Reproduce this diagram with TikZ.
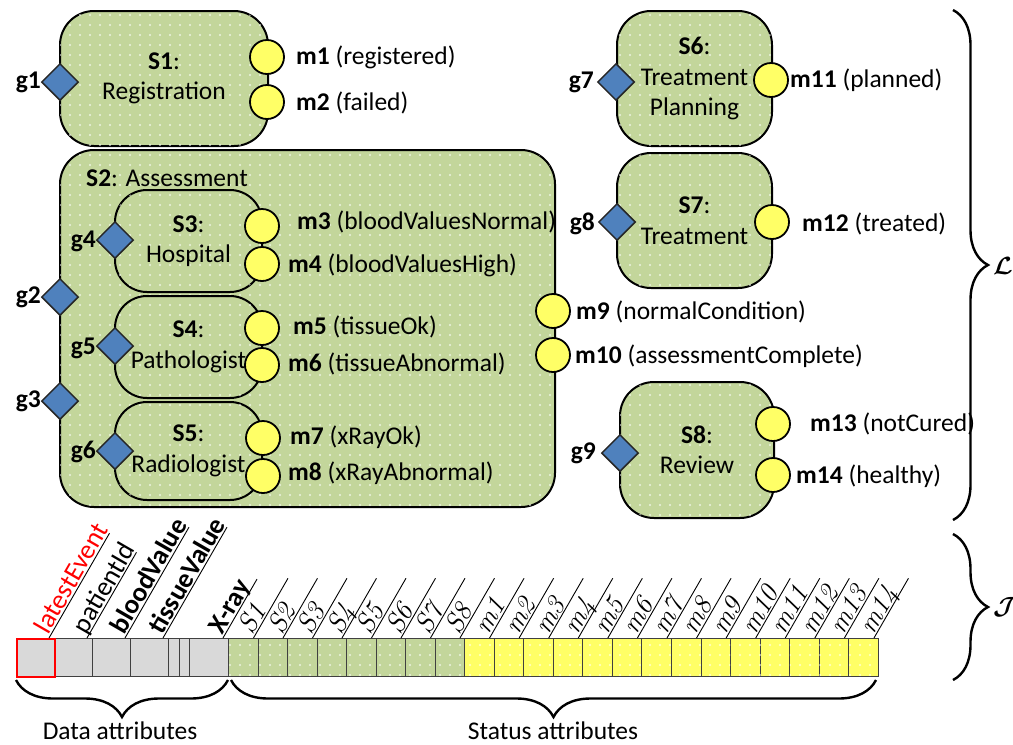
\documentclass[tikz,border=0pt]{standalone}
\usepackage[no-math]{fontspec}
\setmainfont{Carlito}
\usepackage{bm}
\usetikzlibrary{shapes.geometric,patterns.meta,decorations.pathreplacing,calc}

\definecolor{stategreen}{HTML}{C3D69B}
\definecolor{msyellow}{HTML}{FFFF66}
\definecolor{guardblue}{HTML}{4F81BD}
\definecolor{attrgray}{HTML}{D9D9D9}

\newcommand\attrit[1]{{\fontfamily{lmr}\itshape #1}}

\tikzset{
  dotfill/.style={postaction={pattern={Dots[distance=10pt,radius=1.1pt]},pattern color=white,fill opacity=.7}},
  stage/.style={draw,line width=2pt,fill=stategreen,rounded corners=34pt,align=center,inner sep=0pt,dotfill},
  substage/.style={stage,rounded corners=32pt},
  milestone/.style={circle,draw,line width=1.8pt,fill=msyellow,minimum size=34pt,inner sep=0pt},
  guard/.style={diamond,draw=black!85,line width=1.5pt,fill=guardblue,minimum width=37pt,minimum height=37pt,inner sep=0pt},
  txt/.style={inner sep=0pt},
  cell/.style={draw=black!75,line width=1pt,minimum height=38pt,inner sep=0pt,anchor=north west},
  datacell/.style={cell,fill=attrgray},
  stagecell/.style={cell,fill=stategreen,dotfill},
  mscell/.style={cell,fill=msyellow,dotfill},
  rot/.style={rotate=60,anchor=base west,inner sep=0pt,font=\fontsize{27.5}{30}\selectfont},
  rotdata/.style={rot,font=\fontsize{27}{30}\selectfont},
  bigbrace/.style={decorate,decoration={brace,amplitude=35pt},line width=2.4pt},
}

\begin{document}
\begin{tikzpicture}[x=1pt,y=-1pt,font=\fontsize{25.5}{30.5}\selectfont]
\useasboundingbox (0,0) rectangle (1013,745);

% ---------- stages ----------
\node[stage,minimum width=208pt,minimum height=135pt] (S1) at (164,78.5) {\textbf{S1}:\\Registration};
\node[stage,minimum width=495pt,minimum height=357pt] (S2) at (307.5,328.5) {};
\node[txt,anchor=west] (S2lbl) at (86,178) {\textbf{S2}: Assessment};
\node[substage,minimum width=147pt,minimum height=102pt] (S3) at (188.5,241) {\textbf{S3}:\\Hospital};
\node[substage,minimum width=147pt,minimum height=102pt] (S4) at (188.5,347) {\textbf{S4}:\\Pathologist};
\node[substage,minimum width=147pt,minimum height=98pt] (S5) at (188.5,451) {\textbf{S5}:\\Radiologist};
\node[stage,minimum width=155pt,minimum height=135pt] (S6) at (694.5,78.5) {\textbf{S6}:\\Treatment\\Planning};
\node[stage,minimum width=155pt,minimum height=135pt] (S7) at (694.5,220.5) {\textbf{S7}:\\Treatment};
\node[stage,minimum width=154pt,minimum height=136pt] (S8) at (697,450) {\textbf{S8}:\\Review};

% ---------- guards ----------
\node[guard] (g1) at (60,82) {};
\node[guard] (g2) at (60,297) {};
\node[guard] (g3) at (60,401) {};
\node[guard] (g4) at (115,240) {};
\node[guard] (g5) at (115,346) {};
\node[guard] (g6) at (115,451) {};
\node[guard] (g7) at (616,82) {};
\node[guard] (g8) at (617,222) {};
\node[guard] (g9) at (620,453) {};

\node[txt,anchor=east] (g1l) at (41,82) {\textbf{g1}};
\node[txt,anchor=east] (g2l) at (41,297) {\textbf{g2}};
\node[txt,anchor=east] (g3l) at (41,401) {\textbf{g3}};
\node[txt,anchor=east] (g4l) at (96,241) {\textbf{g4}};
\node[txt,anchor=east] (g5l) at (96,348) {\textbf{g5}};
\node[txt,anchor=east] (g6l) at (96,452) {\textbf{g6}};
\node[txt,anchor=east] (g7l) at (594,82) {\textbf{g7}};
\node[txt,anchor=east] (g8l) at (595,224) {\textbf{g8}};
\node[txt,anchor=east] (g9l) at (596,453) {\textbf{g9}};

% ---------- milestones ----------
\node[milestone] (m1) at (267,57) {};
\node[milestone] (m2) at (267,102) {};
\node[milestone] (m3) at (262,226) {};
\node[milestone] (m4) at (262,264) {};
\node[milestone] (m5) at (262,328) {};
\node[milestone] (m6) at (262,365) {};
\node[milestone] (m7) at (263,438) {};
\node[milestone] (m8) at (263,476) {};
\node[milestone] (m9) at (553,311) {};
\node[milestone] (m10) at (553,355) {};
\node[milestone] (m11) at (771,80) {};
\node[milestone] (m12) at (772,222) {};
\node[milestone] (m13) at (773,424) {};
\node[milestone] (m14) at (773,475) {};

\node[txt,anchor=west] (m1l) at (296,57) {\textbf{m1} (registered)};
\node[txt,anchor=west] (m2l) at (296,103) {\textbf{m2} (failed)};
\node[txt,anchor=west] (m3l) at (297,222) {\textbf{m3} (bloodValuesNormal)};
\node[txt,anchor=west] (m4l) at (288,265) {\textbf{m4} (bloodValuesHigh)};
\node[txt,anchor=west] (m5l) at (293,327) {\textbf{m5} (tissueOk)};
\node[txt,anchor=west] (m6l) at (288,364) {\textbf{m6} (tissueAbnormal)};
\node[txt,anchor=west] (m7l) at (290,437) {\textbf{m7} (xRayOk)};
\node[txt,anchor=west] (m8l) at (288,473) {\textbf{m8} (xRayAbnormal)};
\node[txt,anchor=west] (m9l) at (576,312) {\textbf{m9} (normalCondition)};
\node[txt,anchor=west] (m10l) at (575,356) {\textbf{m10} (assessmentComplete)};
\node[txt,anchor=west] (m11l) at (790,80) {\textbf{m11} (planned)};
\node[txt,anchor=west] (m12l) at (802,224) {\textbf{m12} (treated)};
\node[txt,anchor=west] (m13l) at (810,424) {\textbf{m13} (notCured)};
\node[txt,anchor=west] (m14l) at (796,476) {\textbf{m14} (healthy)};

% ---------- attribute row ----------
\node[datacell,minimum width=38pt] (aLE) at (16,638) {};
\node[datacell,minimum width=38pt] (aPI) at (54,638) {};
\node[datacell,minimum width=38pt] (aBV) at (92,638) {};
\node[datacell,minimum width=38pt] (aTV) at (130,638) {};
\node[datacell,minimum width=10.5pt] (aD1) at (168,638) {};
\node[datacell,minimum width=10.5pt] (aD2) at (178.5,638) {};
\node[datacell,minimum width=39pt] (aXR) at (189,638) {};
\foreach \i in {1,...,8}
  \node[stagecell,minimum width=29.5pt] (aS\i) at ({228+29.5*(\i-1)},638) {};
\foreach \i in {1,...,14}
  \node[mscell,minimum width=29.57pt] (am\i) at ({464+29.57*(\i-1)},638) {};
\node[cell,draw=red,line width=2pt,minimum width=38pt] (aLEred) at (16,638) {};

% slanted column headings with their underlines
\foreach \c/\t/\len in {aLE/{\color{red}latestEvent}/121, aPI/patientId/99,
    aBV/\textbf{bloodValue}/128, aTV/\textbf{tissueValue}/128, aXR/\textbf{X-ray}/68}{
  \draw[line width=.9pt] ($(\c.north east)+(-6,0)$) coordinate (u\c) -- ++(-60:\len) coordinate (v\c);
  \node[rotdata] (h\c) at ($(u\c)+(-60:2)+(-150:2)$) {\t};
}
\foreach \i in {1,...,8}{
  \draw[line width=.9pt] ($(aS\i.north east)+(-5,0)$) coordinate (uS\i) -- ++(-60:69) coordinate (vS\i);
  \node[rot] (hS\i) at ($(uS\i)+(-60:2)+(-150:2)$) {\attrit{S\i}};
}
\foreach \i in {1,...,14}{
  \draw[line width=.9pt] ($(am\i.north east)+(-5,0)$) coordinate (um\i) -- ++(-60:69) coordinate (vm\i);
  \node[rot] (hm\i) at ($(um\i)+(-60:2)+(-150:2)$) {\attrit{m\i}};
}

% ---------- braces ----------
\coordinate (dataR) at (228,680);
\coordinate (dataL) at (16,680);
\coordinate (statR) at (876,680);
\coordinate (statL) at (231,680);
\draw[bigbrace,decoration={amplitude=37pt}] (dataR) -- (dataL);
\draw[bigbrace,decoration={amplitude=37pt}] (statR) -- (statL);
\node[txt] (dataTxt) at (120,731) {Data attributes};
\node[txt] (statTxt) at (553,731) {Status attributes};

\coordinate (LTop) at (953,10);
\coordinate (LBot) at (953,520);
\coordinate (JTop) at (953,534);
\coordinate (JBot) at (953,680);
\draw[bigbrace] (LTop) -- (LBot);
\draw[bigbrace] (JTop) -- (JBot);
\node[txt,anchor=west,font=\fontsize{32}{32}\selectfont] (Lsym) at (993,266) {$\bm{\mathcal{L}}$};
\node[txt,anchor=west,font=\fontsize{32}{32}\selectfont] (Jsym) at (993,607) {$\bm{\mathcal{J}}$};
\end{tikzpicture}
\end{document}
